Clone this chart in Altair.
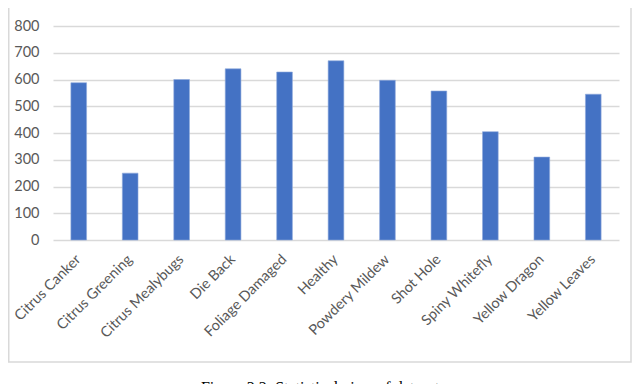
import altair as alt
import pandas as pd

categories = ["Citrus Canker", "Citrus Greening", "Citrus Mealybugs", "Die Back",
              "Foliage Damaged", "Healthy", "Powdery Mildew", "Shot Hole",
              "Spiny Whitefly", "Yellow Dragon", "Yellow Leaves"]
counts = [588, 250, 600, 640, 628, 670, 597, 557, 405, 310, 545]
y_ticks = [0, 100, 200, 300, 400, 500, 600, 700, 800]
caption = "Figure 3.2: Statistical view of dataset"

df = pd.DataFrame({"category": categories, "count": counts})

W, H = 566, 214
PAD_L, PAD_T, PAD_R, PAD_B = 45, 18, 13, 144

bars = alt.Chart(df).mark_bar(color="#4472C4", stroke="#8fa9dc", strokeWidth=0.6).encode(
    x=alt.X("category:N", sort=categories, title=None,
            scale=alt.Scale(paddingInner=0.695, paddingOuter=0.3475),
            axis=alt.Axis(labelAngle=-45, labelAlign="right", labelBaseline="middle",
                          labelPadding=17, ticks=False, domain=False, grid=False,
                          labelFont="Lato", labelFontSize=14.5, labelColor="#595959")),
    y=alt.Y("count:Q", title=None,
            scale=alt.Scale(domain=[0, 800], nice=False),
            axis=alt.Axis(values=y_ticks, ticks=False, domain=False, grid=True,
                          gridColor="#d9d9d9", gridWidth=1.3, labelPadding=14,
                          labelFont="Lato", labelFontSize=14.5, labelColor="#595959")),
)

frame_df = pd.DataFrame({"k": [0]})
frame = alt.Chart(frame_df).mark_rect(fill=None, stroke="#d9d9d9", strokeWidth=1.5).encode(
    x=alt.value(-PAD_L + 0.75), x2=alt.value(W + PAD_R - 1),
    y=alt.value(-40), y2=alt.value(354 - PAD_T),
)

cap_df = pd.DataFrame({"t": [caption]})
cap = alt.Chart(cap_df).mark_text(font="Liberation Serif", fontSize=16, color="#000000",
                                   baseline="top", align="center").encode(
    text="t:N", x=alt.value(320 - 8 - PAD_L), y=alt.value(372 - PAD_T),
)

chart = alt.layer(frame, bars, cap).properties(
    width=W, height=H,
    padding={"left": PAD_L, "top": PAD_T, "right": PAD_R, "bottom": PAD_B},
    autosize=alt.AutoSizeParams(type="none"),
).configure_view(stroke=None)

chart.save("out.html", embed_options={"renderer": "svg", "actions": False})
